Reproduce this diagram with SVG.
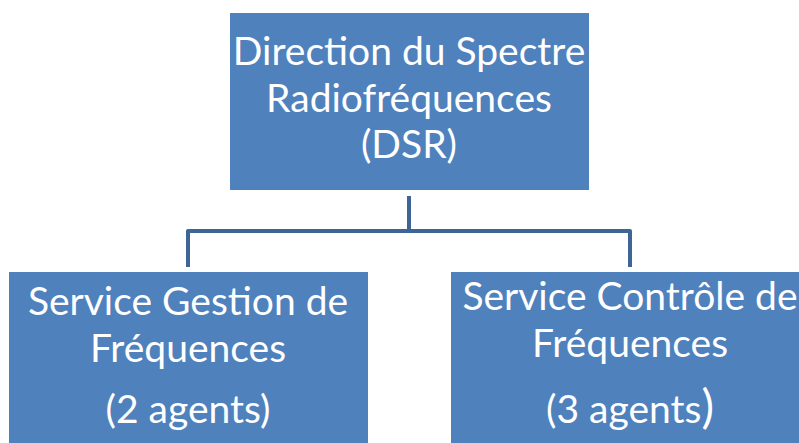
<svg xmlns="http://www.w3.org/2000/svg" width="799" height="443" viewBox="0 0 799 443">
<style>
.box{fill:#4f81bd;}
.t{font-family:Lato,"Open Sans",sans-serif;font-size:39px;fill:#ffffff;text-anchor:middle;}
.c{fill:none;stroke:#3e6595;stroke-width:4;stroke-linejoin:round;}
</style>
<rect width="799" height="443" fill="#ffffff"/>
<g id="connectors">
<path class="c" d="M409 196 V231"/>
<path class="c" d="M188 267 V231 H630 V267"/>
</g>
<g id="dsr">
<rect class="box" x="230" y="13" width="359" height="177"/>
<text class="t" x="409" y="65">Direction du Spectre</text>
<text class="t" x="409" y="112">Radiofréquences</text>
<text class="t" x="409" y="158">(DSR)</text>
</g>
<g id="gestion">
<rect class="box" x="9" y="272" width="359" height="180"/>
<text class="t" x="188" y="315">Service Gestion de</text>
<text class="t" x="188" y="362">Fréquences</text>
<text class="t" x="188" y="423">(2 agents)</text>
</g>
<g id="controle">
<rect class="box" x="451" y="272" width="359" height="180"/>
<text class="t" x="630" y="310">Service Contrôle de</text>
<text class="t" x="630" y="357">Fréquences</text>
<text class="t" x="630" y="423">(3 agents<tspan font-size="47px">)</tspan></text>
</g>
</svg>
